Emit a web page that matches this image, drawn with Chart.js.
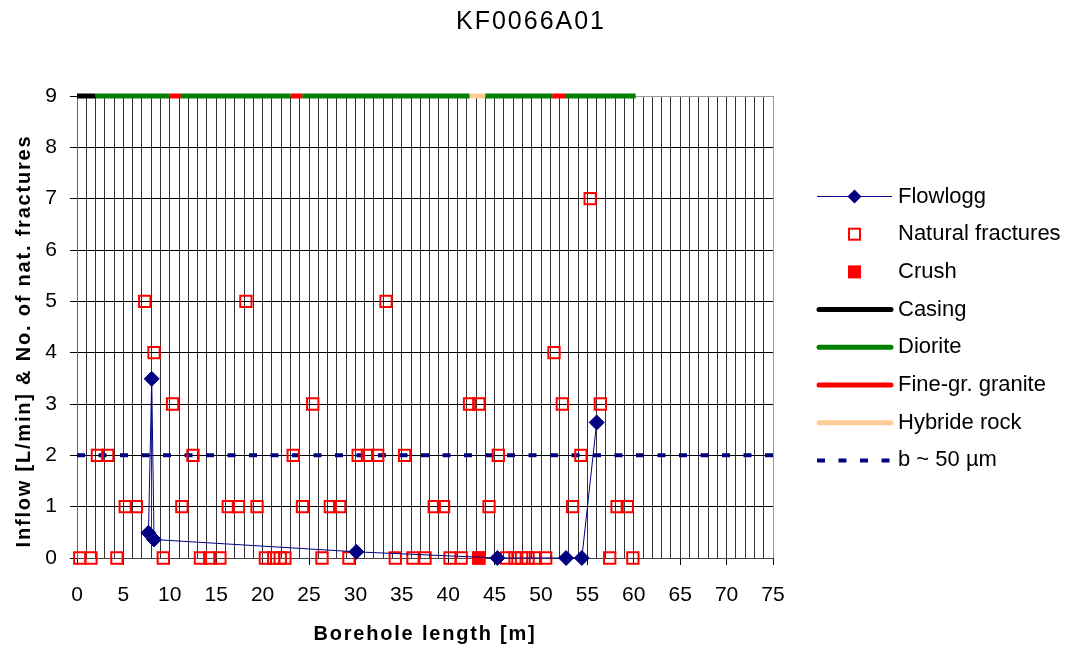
<!DOCTYPE html>
<html>
<head>
<meta charset="utf-8">
<title>KF0066A01</title>
<script src="https://cdn.jsdelivr.net/npm/chart.js@4/dist/chart.umd.min.js"></script>
<style>
	body { margin: 0; background: #fff; }
	#wrap { width: 1071px; height: 650px; }
</style>
</head>
<body>
<div id="wrap"><canvas id="chart" width="1071" height="650"></canvas></div>
<script>
const chartTitle = "KF0066A01"
const xTitle = "Borehole length [m]"
const yTitle = "Inflow [L/min] & No. of nat. fractures"

// flow log (inflow, L/min)
const flowDepth = [7.7, 8.05, 8.3, 30.1, 45.3, 52.7, 54.4, 56.0]
const flowValue = [0.49, 3.49, 0.36, 0.12, 0, 0, 0, 2.64]

// natural fractures per metre
const fracDepth = [
	0.3, 1.5, 4.3, 9.3, 13.3, 14.3, 15.4, 20.3, 21.2, 21.9, 22.4, 26.4, 29.3,
	34.3, 36.2, 37.5, 40.2, 41.4, 46.3, 47.2, 47.9, 48.6, 49.4, 50.5, 57.4, 59.9,
	5.2, 6.4, 11.3, 16.3, 17.4, 19.4, 24.3, 27.3, 28.3, 38.5, 39.5, 44.4, 53.4, 58.2, 59.3,
	2.2, 3.3, 12.5, 23.3, 30.3, 31.3, 32.4, 35.3, 45.4, 54.3,
	10.3, 25.4, 42.3, 43.3, 52.3, 56.4,
	8.3, 51.4,
	7.3, 18.2, 33.3,
	55.3
]
const fracCount = [
	0, 0, 0, 0, 0, 0, 0, 0, 0, 0, 0, 0, 0,
	0, 0, 0, 0, 0, 0, 0, 0, 0, 0, 0, 0, 0,
	1, 1, 1, 1, 1, 1, 1, 1, 1, 1, 1, 1, 1, 1, 1,
	2, 2, 2, 2, 2, 2, 2, 2, 2, 2,
	3, 3, 3, 3, 3, 3,
	4, 4,
	5, 5, 5,
	7
]

const crushDepth = [43.3]
const crushCount = [0]

// rock types along the borehole, drawn at the top
const rockFrom = [0, 2, 10, 11.2, 23, 24.3, 42.3, 44, 51.2, 52.6]
const rockTo = [2, 10, 11.2, 23, 24.3, 42.3, 44, 51.2, 52.6, 60.2]
const rockType = ["Casing", "Diorite", "Fine-gr. granite", "Diorite", "Fine-gr. granite",
	"Diorite", "Hybride rock", "Diorite", "Fine-gr. granite", "Diorite"]
const rockNames = ["Casing", "Diorite", "Fine-gr. granite", "Hybride rock"]
const rockColors = ["#000000", "#008000", "#ff0000", "#ffcc99"]
const rockLevel = 9

// hydraulic aperture reference line
const apertureLabel = "b ~ 50 µm"
const apertureDepth = [0, 75]
const apertureValue = [2, 2]

const font = "'Liberation Sans', Arial, sans-serif"

function points(xs, ys) {
	return xs.map((x, i) => ({x: x, y: ys[i]}))
}

function rockData(name) {
	let data = []
	for (let i = 0; i < rockType.length; i++) {
		if (rockType[i] != name) continue
		data.push({x: rockFrom[i], y: rockLevel})
		data.push({x: rockTo[i], y: rockLevel})
		data.push({x: rockTo[i], y: null})
	}
	return data
}

let datasets = [{
	type: 'line',
	label: 'Flowlogg',
	data: points(flowDepth, flowValue),
	borderColor: '#000080',
	backgroundColor: '#000080',
	borderWidth: 1,
	pointStyle: 'rectRot',
	pointRadius: 7.5,
	pointBorderWidth: 1,
	tension: 0,
	clip: false,
}, {
	type: 'scatter',
	label: 'Crush',
	data: points(crushDepth, crushCount),
	borderColor: '#ff0000',
	backgroundColor: '#ff0000',
	pointStyle: 'rect',
	pointRadius: 9,
	borderWidth: 1,
	clip: false,
}, {
	type: 'scatter',
	label: 'Natural fractures',
	data: points(fracDepth, fracCount),
	borderColor: '#ff0000',
	backgroundColor: 'rgba(0,0,0,0)',
	pointStyle: 'rect',
	pointRadius: 8,
	borderWidth: 2,
	clip: false,
}]

rockNames.forEach((name, i) => {
	datasets.push({
		type: 'line',
		label: name,
		data: rockData(name),
		borderColor: rockColors[i],
		borderWidth: 5,
		borderCapStyle: 'butt',
		pointRadius: 0,
		spanGaps: false,
		clip: false,
	})
})

datasets.push({
	type: 'line',
	label: apertureLabel,
	data: points(apertureDepth, apertureValue),
	borderColor: '#000080',
	borderWidth: 4,
	borderDash: [8, 13.5],
	pointRadius: 0,
	clip: false,
})

const legendOrder = ['Flowlogg', 'Natural fractures', 'Crush', 'Casing', 'Diorite',
	'Fine-gr. granite', 'Hybride rock', apertureLabel]

function drawSymbol(ctx, ds, cx, cy) {
	if (ds.label == 'Flowlogg') {
		ctx.strokeStyle = ds.borderColor
		ctx.lineWidth = 1
		ctx.beginPath()
		ctx.moveTo(817, cy)
		ctx.lineTo(892, cy)
		ctx.stroke()
		ctx.fillStyle = ds.backgroundColor
		ctx.beginPath()
		ctx.moveTo(cx - 7, cy)
		ctx.lineTo(cx, cy - 7)
		ctx.lineTo(cx + 7, cy)
		ctx.lineTo(cx, cy + 7)
		ctx.closePath()
		ctx.fill()
	} else if (ds.type == 'scatter') {
		if (ds.label == 'Crush') {
			ctx.fillStyle = ds.backgroundColor
			ctx.fillRect(cx - 6.5, cy - 6.5, 13, 13)
		} else {
			ctx.strokeStyle = ds.borderColor
			ctx.lineWidth = 2
			ctx.strokeRect(cx - 5.5, cy - 5.5, 11, 11)
		}
	} else {
		ctx.strokeStyle = ds.borderColor
		ctx.lineWidth = ds.borderWidth
		ctx.lineCap = ds.borderDash ? 'butt' : 'round'
		ctx.setLineDash(ds.borderDash || [])
		ctx.beginPath()
		ctx.moveTo(ds.borderDash ? 817 : 819, cy)
		ctx.lineTo(ds.borderDash ? 895 : 891, cy)
		ctx.stroke()
		ctx.setLineDash([])
	}
}

const textPlugin = {
	id: 'texts',
	afterDraw(chart) {
		const ctx = chart.ctx
		ctx.save()
		ctx.fillStyle = '#000'
		ctx.textBaseline = 'middle'

		ctx.textAlign = 'center'
		ctx.letterSpacing = '2px'
		ctx.font = "25px " + font
		ctx.fillText(chartTitle, 531, 22)

		ctx.letterSpacing = '1.8px'
		ctx.font = "bold 20px " + font
		ctx.fillText(xTitle, 425, 634)

		ctx.save()
		ctx.translate(24, 341)
		ctx.rotate(-Math.PI / 2)
		ctx.fillText(yTitle, 0, 0)
		ctx.restore()

		// legend
		ctx.letterSpacing = '0px'
		ctx.textAlign = 'left'
		ctx.font = "22px " + font
		legendOrder.forEach((label, i) => {
			const ds = chart.data.datasets.find(d => d.label == label)
			const cy = 196.5 + i * 37.7
			drawSymbol(ctx, ds, 854.5, cy)
			ctx.fillStyle = '#000'
			ctx.fillText(label, 898, cy)
		})
		ctx.restore()
	}
}

let chart = new Chart(document.getElementById("chart"), {
	data: {
		datasets: datasets,
	},
	options: {
		animation: false,
		responsive: false,
		events: [],
		layout: {
			padding: {left: 0, top: 96, right: 298, bottom: 0},
		},
		plugins: {
			legend: {display: false},
			title: {display: false},
			tooltip: {enabled: false},
		},
		scales: {
			x: {
				type: 'linear',
				min: 0,
				max: 75,
				afterFit(scale) { scale.height = 92 },
				ticks: {
					stepSize: 1,
					autoSkip: false,
					maxRotation: 0,
					padding: 18,
					color: '#000',
					font: {family: font, size: 21},
					callback: v => v % 5 == 0 ? v : '',
				},
				grid: {
					color: ctx => ctx.tick && ctx.tick.value == 75 ? '#999' : '#333',
					tickColor: ctx => ctx.tick && ctx.tick.value % 5 == 0 ? '#000' : 'rgba(0,0,0,0)',
					tickLength: 7,
				},
				border: {color: '#444'},
			},
			y: {
				type: 'linear',
				min: 0,
				max: 9,
				afterFit(scale) { scale.width = 77 },
				ticks: {
					stepSize: 1,
					padding: 13,
					color: '#000',
					font: {family: font, size: 21},
				},
				grid: {
					color: ctx => ctx.tick && ctx.tick.value == 9 ? '#999' : '#000',
					tickColor: '#000',
					tickLength: 7,
				},
				border: {color: '#666'},
			},
		},
	},
	plugins: [textPlugin],
})
</script>
</body>
</html>
